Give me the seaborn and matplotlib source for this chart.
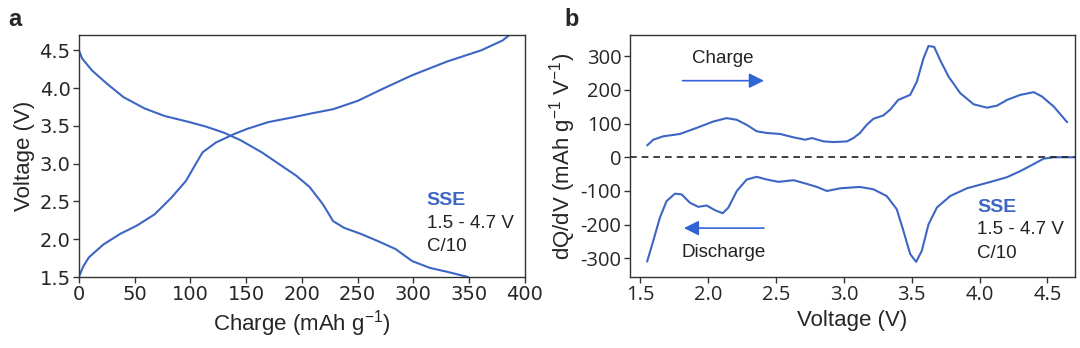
import numpy as np
import pandas as pd
import matplotlib
matplotlib.use("Agg")
import matplotlib.pyplot as plt
import seaborn as sns

# ---- galvanostatic profile (panel a) ----
charge_cap = [0, 4, 9, 22, 37, 52, 68, 83, 96, 105, 111, 123, 139, 151, 170, 191, 207,
              228, 250, 274, 299, 330, 361, 380, 386]
charge_volt = [1.50, 1.64, 1.76, 1.93, 2.07, 2.18, 2.33, 2.55, 2.77, 3.00, 3.15, 3.28,
               3.39, 3.46, 3.55, 3.61, 3.66, 3.72, 3.83, 4.00, 4.17, 4.35, 4.50, 4.63, 4.70]
discharge_cap = [0, 3, 12, 25, 40, 59, 77, 99, 114, 130, 145, 164, 179, 195, 207, 219,
                 228, 238, 253, 269, 284, 299, 315, 330, 349]
discharge_volt = [4.50, 4.39, 4.23, 4.06, 3.88, 3.73, 3.63, 3.55, 3.49, 3.41, 3.31, 3.15,
                  3.00, 2.84, 2.69, 2.46, 2.24, 2.15, 2.07, 1.97, 1.87, 1.71, 1.62, 1.57, 1.50]

# ---- differential capacity (panel b) ----
dqdv_charge_v = [1.549, 1.594, 1.667, 1.79, 1.914, 2.037, 2.135, 2.21, 2.283, 2.357,
                 2.431, 2.53, 2.628, 2.714, 2.764, 2.85, 2.924, 3.022, 3.07, 3.118,
                 3.167, 3.217, 3.29, 3.34, 3.40, 3.488, 3.537, 3.586, 3.623, 3.665,
                 3.709, 3.771, 3.857, 3.956, 4.054, 4.128, 4.202, 4.30, 4.399, 4.46,
                 4.547, 4.645]
dqdv_charge = [35, 52, 62, 69, 87, 106, 116, 111, 96, 77, 72, 69, 59, 52, 57, 47, 45,
               47, 57, 72, 96, 114, 124, 141, 170, 185, 224, 293, 330, 327, 288, 239,
               190, 157, 147, 153, 170, 185, 193, 180, 150, 104]
dqdv_dis_v = [1.549, 1.594, 1.643, 1.692, 1.754, 1.803, 1.865, 1.926, 1.988, 2.049,
              2.106, 2.148, 2.21, 2.283, 2.357, 2.431, 2.517, 2.628, 2.727, 2.80, 2.874,
              2.973, 3.118, 3.217, 3.315, 3.389, 3.438, 3.488, 3.532, 3.574, 3.623,
              3.685, 3.783, 3.906, 4.054, 4.202, 4.30, 4.399, 4.473, 4.547, 4.70]
dqdv_dis = [-309, -248, -179, -130, -108, -110, -135, -147, -143, -157, -166, -149,
            -100, -66, -58, -66, -73, -68, -79, -88, -100, -92, -88, -95, -115, -154,
            -218, -287, -310, -277, -199, -149, -115, -92, -76, -59, -41, -20, -4, 0, 0]

blue = "#3d66c4"
arrow_blue = "#3264d6"
sns.set_style("ticks")
plt.rcParams["font.family"] = ["Liberation Sans", "DejaVu Sans"]
plt.rcParams["mathtext.fontset"] = "custom"
plt.rcParams["mathtext.rm"] = "Liberation Sans"
plt.rcParams["mathtext.it"] = "Liberation Sans:italic"
plt.rcParams["axes.unicode_minus"] = False

fig = plt.figure(figsize=(10.8, 3.48), dpi=100)
ax_a = fig.add_axes([0.073, 0.204, 0.413, 0.695])
ax_b = fig.add_axes([0.583, 0.204, 0.412, 0.695])

df_c = pd.DataFrame({"cap": charge_cap, "v": charge_volt})
df_d = pd.DataFrame({"cap": discharge_cap, "v": discharge_volt})
sns.lineplot(data=df_c, x="cap", y="v", sort=False, ax=ax_a, color=blue, lw=1.5)
sns.lineplot(data=df_d, x="cap", y="v", sort=False, ax=ax_a, color=blue, lw=1.5)
ax_a.set_xlim(0, 400)
ax_a.set_ylim(1.5, 4.7)
ax_a.set_xticks(np.arange(0, 401, 50))
ax_a.set_yticks(np.arange(1.5, 4.51, 0.5))
ax_a.set_xlabel("Charge (mAh g$^{-1}$)", fontsize=16, labelpad=3)
ax_a.set_ylabel("Voltage (V)", fontsize=16, labelpad=3)
for lab in ax_a.get_xticklabels() + ax_a.get_yticklabels():
    lab.set_fontfamily("DejaVu Sans")
    lab.set_fontsize(14)
ax_a.text(312, 2.51, "SSE", color=blue, fontsize=14, fontweight="bold", va="center")
ax_a.text(312, 2.21, "1.5 - 4.7 V", color="#222222", fontsize=13.5, va="center")
ax_a.text(312, 1.90, "C/10", color="#222222", fontsize=13.5, va="center")

df_bc = pd.DataFrame({"v": dqdv_charge_v, "dq": dqdv_charge})
df_bd = pd.DataFrame({"v": dqdv_dis_v, "dq": dqdv_dis})
sns.lineplot(data=df_bc, x="v", y="dq", sort=False, ax=ax_b, color=blue, lw=1.5)
sns.lineplot(data=df_bd, x="v", y="dq", sort=False, ax=ax_b, color=blue, lw=1.5)
ax_b.axhline(0, color="#222222", ls=(0, (4, 3)), lw=1.2)
ax_b.set_xlim(1.42, 4.70)
ax_b.set_ylim(-355, 362)
ax_b.set_xticks(np.arange(1.5, 4.51, 0.5))
ax_b.set_yticks(np.arange(-300, 301, 100))
ax_b.set_xlabel("Voltage (V)", fontsize=16, labelpad=3)
ax_b.set_ylabel("dQ/dV (mAh g$^{-1}$ V$^{-1}$)", fontsize=16, labelpad=2)
for lab in ax_b.get_xticklabels() + ax_b.get_yticklabels():
    lab.set_fontfamily("Open Sans")
    lab.set_fontsize(14.5)

arrow_style = dict(arrowstyle="-|>,head_length=0.9,head_width=0.45",
                   color=arrow_blue, lw=1.2, shrinkA=0, shrinkB=0)
ax_b.text(2.11, 293, "Charge", fontsize=13.5, ha="center", va="center", color="#222222")
ax_b.annotate("", xy=(2.41, 227), xytext=(1.81, 227), arrowprops=arrow_style)
ax_b.text(2.11, -282, "Discharge", fontsize=13.5, ha="center", va="center", color="#222222")
ax_b.annotate("", xy=(1.82, -210), xytext=(2.41, -210), arrowprops=arrow_style)
ax_b.text(3.98, -148, "SSE", color=blue, fontsize=14, fontweight="bold", va="center")
ax_b.text(3.98, -215, "1.5 - 4.7 V", color="#222222", fontsize=13.5, va="center")
ax_b.text(3.98, -284, "C/10", color="#222222", fontsize=13.5, va="center")

for ax in (ax_a, ax_b):
    for s in ax.spines.values():
        s.set_color("#333333")
        s.set_linewidth(1.0)
    ax.tick_params(direction="out", length=4, width=1.0, color="#333333", pad=2)

fig.text(0.008, 0.945, "a", fontsize=17, fontweight="bold", va="center")
fig.text(0.523, 0.945, "b", fontsize=17, fontweight="bold", va="center")

fig.savefig("out.png", dpi=100)
